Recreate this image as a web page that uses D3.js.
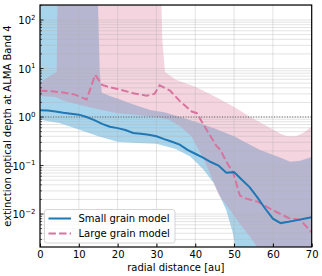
<!DOCTYPE html>
<html><head><meta charset="utf-8">
<script src="https://cdn.jsdelivr.net/npm/d3@7"></script>
<style>
body{margin:0;background:#fff}
svg{display:block}
text{font-family:"DejaVu Sans",sans-serif;fill:#000}
</style>
</head><body>
<svg id="c" width="322" height="276"></svg>
<script>
// ---- data ----
const xTicks = [0,10,20,30,40,50,60,70];
const yTickExps = [-2,-1,0,1,2];
const seriesNames = ["Small grain model","Large grain model"];

// mean curves
const smallLineR   = [0,2,4,6,8,10,12,14,16,18,20,22,24,26,28,30,32,34,36,38,40,42,44,46,48,50,52,54,56,58,60,62,64,66,68,70];
const smallLineTau = [1.38,1.36,1.3,1.22,1.17,1.12,1.0,0.86,0.72,0.63,0.59,0.54,0.47,0.45,0.43,0.40,0.35,0.31,0.27,0.21,0.175,0.145,0.118,0.1,0.071,0.073,0.051,0.036,0.022,0.013,0.008,0.0065,0.0069,0.0074,0.008,0.0086];

const largeLineR   = [0,3,6,9,12,14.2,16,18,20,24,27.5,29.5,30.8,33.5,36.1,39.1,40.4,43.4,45.5,46.5,48,49.8,51.5,53,56,60,64,67,70];
const largeLineTau = [3.5,3.4,3.2,2.9,2.3,7.4,4.6,4.1,3.8,3.1,2.75,3.0,4.5,3.5,2.1,1.3,1.2,0.47,0.25,0.21,0.12,0.07,0.024,0.021,0.018,0.012,0.0083,0.0076,0.0042];

// uncertainty bands (values beyond the axes are clipped)
const smallHiR   = [0,14.4,15.4,15.9,18,20,23,26,28.4,32,37,41,45,50,53,56.7,60,62,64.5,67,70];
const smallHiTau = [1e4,1e4,8.2,3.2,2.7,2.4,1.95,1.6,1.4,1.25,0.95,0.75,0.58,0.40,0.3,0.21,0.167,0.145,0.12,0.125,0.15];
const smallLoR   = [0,5,10,15,20,25,30,35,38.7,42,44.7,46.2,48,49.7,50.5,52,70];
const smallLoTau = [0.88,0.75,0.55,0.4,0.31,0.29,0.28,0.22,0.154,0.085,0.044,0.025,0.012,0.004,0.0018,0.001,0.001];

const largeHiR   = [0,4.3,4.7,30.8,31.5,32.2,35,40,43,46,49.8,54,57,60,62,63.6,66,68,70];
const largeHiTau = [5.2,8.5,1e4,1e4,40,8.5,5.9,4.2,3.2,2.4,1.65,1.03,0.75,0.55,0.45,0.40,0.40,0.48,0.64];
const largeLoR   = [0,4,6,10,15,20,25,30,33,36,39,41.5,43.5,46,49,52,54,56.5,58,70];
const largeLoTau = [2.7,2.6,2.2,1.8,1.45,1.2,1.1,1.0,0.9,0.65,0.4,0.17,0.08,0.025,0.012,0.0055,0.0035,0.0018,0.001,0.001];

// ---- layout ----
const L=40, R=311.7, T=5, B=247;
const svg = d3.select("#c");
const x = d3.scaleLinear().domain([0,70]).range([L,R]);
const y = d3.scaleLog().domain([0.00209,204]).range([B,T]);

svg.append("defs").append("clipPath").attr("id","clip")
  .append("rect").attr("x",L).attr("y",T).attr("width",R-L).attr("height",B-T);

const plot = svg.append("g").attr("clip-path","url(#clip)");

const zip = (rs,vs)=>rs.map((r,i)=>[r,vs[i]]);
const line = d3.line().x(d=>x(d[0])).y(d=>y(d[1]));
function band(hr,hv,lr,lv){
  const pts = zip(hr,hv).concat(zip(lr,lv).reverse());
  return line(pts)+"Z";
}

// bands
plot.append("path").attr("d",band(smallHiR,smallHiTau,smallLoR,smallLoTau))
  .attr("fill","rgb(100,180,222)").attr("fill-opacity",0.56).attr("stroke","none");
plot.append("path").attr("d",band(largeHiR,largeHiTau,largeLoR,largeLoTau))
  .attr("fill","rgb(219,112,147)").attr("fill-opacity",0.3).attr("stroke","none");

// grid
const minorVals=[];
for(let k=-3;k<=2;k++) for(let m=1;m<=9;m++){const v=m*Math.pow(10,k); if(v>=y.domain()[0]&&v<=y.domain()[1]) minorVals.push(v);}
plot.append("g").selectAll("line").data(minorVals).join("line")
  .attr("x1",L).attr("x2",R).attr("y1",d=>y(d)).attr("y2",d=>y(d))
  .attr("stroke","#b0b0b0").attr("stroke-opacity",0.45).attr("stroke-width",0.8);
plot.append("g").selectAll("line").data(xTicks).join("line")
  .attr("x1",d=>x(d)).attr("x2",d=>x(d)).attr("y1",T).attr("y2",B)
  .attr("stroke","#b0b0b0").attr("stroke-opacity",0.45).attr("stroke-width",0.8);

// reference line at tau = 1
plot.append("line").attr("x1",L).attr("x2",R).attr("y1",y(1)).attr("y2",y(1))
  .attr("stroke","#444").attr("stroke-width",0.8).attr("stroke-dasharray","1,1.6");

// mean curves
plot.append("path").attr("d",line(zip(largeLineR,largeLineTau)))
  .attr("fill","none").attr("stroke","#d8739e").attr("stroke-width",2)
  .attr("stroke-dasharray","7.4,3.2");
plot.append("path").attr("d",line(zip(smallLineR,smallLineTau)))
  .attr("fill","none").attr("stroke","#1f77b4").attr("stroke-width",2);

// axes
const xAxis = d3.axisBottom(x).tickValues(xTicks).tickSizeInner(-3.5).tickSizeOuter(0).tickPadding(4.2);
const gx = svg.append("g").attr("transform",`translate(0,${B})`).call(xAxis);
gx.select(".domain").remove();
gx.selectAll("text").attr("font-size",10).attr("font-family","DejaVu Sans");
gx.selectAll("line").attr("stroke","#000");

// y ticks (major + minor), inward
const gy = svg.append("g");
gy.selectAll("line.minor").data(minorVals.filter(v=>!yTickExps.some(e=>Math.abs(Math.log10(v)-e)<1e-9)))
  .join("line").attr("x1",L).attr("x2",L+2).attr("y1",d=>y(d)).attr("y2",d=>y(d))
  .attr("stroke","#000").attr("stroke-width",0.6);
gy.selectAll("line.major").data(yTickExps).join("line")
  .attr("x1",L).attr("x2",L+3.5).attr("y1",d=>y(Math.pow(10,d))).attr("y2",d=>y(Math.pow(10,d)))
  .attr("stroke","#000").attr("stroke-width",0.8);
const yl = gy.selectAll("text.yl").data(yTickExps).join("text")
  .attr("x",35.5).attr("y",d=>y(Math.pow(10,d))+4.3).attr("text-anchor","end").attr("font-size",10);
yl.append("tspan").text("10");
yl.append("tspan").attr("dy",-4.5).attr("font-size",7).text(d=>d<0?"\u2212"+Math.abs(d):String(d));

// frame
svg.append("rect").attr("x",L).attr("y",T).attr("width",R-L).attr("height",B-T)
  .attr("fill","none").attr("stroke","#000").attr("stroke-width",1.2);

// labels
svg.append("text").attr("x",(L+R)/2).attr("y",270.5).attr("text-anchor","middle").attr("font-size",10)
  .text("radial distance [au]");
svg.append("text").attr("transform",`translate(10.5,${(T+B)/2}) rotate(-90)`).attr("text-anchor","middle")
  .attr("font-size",10).text("extinction optical depth at ALMA Band 4");

// legend
const lg = svg.append("g");
lg.append("rect").attr("x",44.5).attr("y",209.5).attr("width",130.5).attr("height",33.5).attr("rx",2.5)
  .attr("fill","#fff").attr("fill-opacity",0.8).attr("stroke","#ccc").attr("stroke-width",0.8);
const legY=[218.5,233.5];
lg.append("line").attr("x1",48.5).attr("x2",71).attr("y1",legY[0]).attr("y2",legY[0])
  .attr("stroke","#1f77b4").attr("stroke-width",2);
lg.append("line").attr("x1",48.5).attr("x2",71).attr("y1",legY[1]).attr("y2",legY[1])
  .attr("stroke","#d8739e").attr("stroke-width",2).attr("stroke-dasharray","7.4,3.2");
seriesNames.forEach((n,i)=>{
  lg.append("text").attr("x",78.5).attr("y",legY[i]+3.6).attr("font-size",10).text(n);
});
</script>
</body></html>
